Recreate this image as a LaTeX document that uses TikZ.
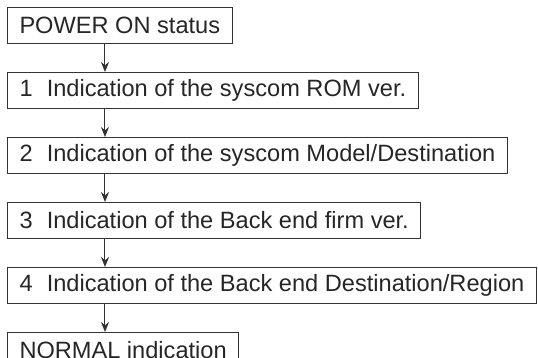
\documentclass[tikz,border=0pt]{standalone}
\usepackage{fontspec}
\setmainfont{Liberation Sans}
\usetikzlibrary{positioning,arrows.meta}

\tikzset{
  stepbox/.style={draw=black!80, line width=0.5pt, minimum height=18pt,
    inner xsep=6pt, inner ysep=0pt, anchor=north west, text=black!85,
    font=\fontsize{11.8}{14}\selectfont},
  arr/.style={-{Stealth[length=5pt,width=4pt]}, line width=0.5pt, black!80}
}
\newcommand{\stepno}[1]{#1\hspace{0.6em}}

\begin{document}
\begin{tikzpicture}[node distance=14pt]
  \useasboundingbox (0,0) rectangle (269pt,-179pt);
  \node[stepbox] (s0) at (3.5pt,-3.5pt) {POWER ON status};
  \node[below=of s0.south west, stepbox] (s1) {\stepno{1}Indication of the syscom ROM ver.};
  \node[below=of s1.south west, stepbox] (s2) {\stepno{2}Indication of the syscom Model/Destination};
  \node[below=of s2.south west, stepbox] (s3) {\stepno{3}Indication of the Back end firm ver.};
  \node[below=of s3.south west, stepbox] (s4) {\stepno{4}Indication of the Back end Destination/Region};
  \node[below=of s4.south west, stepbox] (s5) {NORMAL indication};
  \foreach \i [evaluate=\i as \j using int(\i+1)] in {0,...,4}
    \draw[arr] ([xshift=49pt]s\i.south west) -- ([xshift=49pt]s\j.north west);
\end{tikzpicture}
\end{document}
